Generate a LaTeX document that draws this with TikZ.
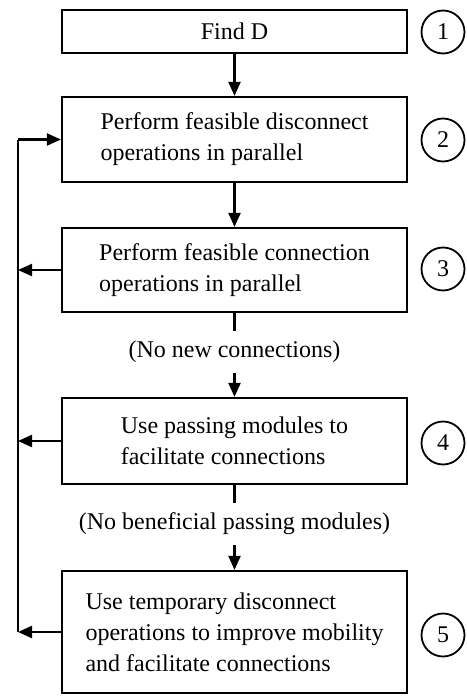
\documentclass[tikz,border=0pt]{standalone}
\usepackage{fontspec}
\setmainfont{Liberation Serif}
\usetikzlibrary{arrows.meta,calc}
\begin{document}
\begin{tikzpicture}[x=1pt,y=-1pt,
  font=\fontsize{24}{31}\selectfont,
  line width=2.2pt,
  boxstyle/.style={draw,rectangle,minimum width=345pt,inner sep=0pt,align=left},
  numstyle/.style={draw,circle,minimum size=43pt,inner sep=0pt,line width=1.8pt},
  lblstyle/.style={inner xsep=0pt,inner ysep=9pt},
  arr/.style={-{Triangle[length=14pt,width=12pt]}}]
\useasboundingbox (0,0) rectangle (466,698);
\node[boxstyle,minimum height=43pt] (b1) at (234.5,31.5) {Find D};
\node[boxstyle,minimum height=85pt] (b2) at (234.5,139.5) {Perform feasible disconnect\\operations in parallel};
\node[boxstyle,minimum height=84pt] (b3) at (234.5,270) {Perform feasible connection\\operations in parallel};
\node[boxstyle,minimum height=86pt] (b4) at (234.5,441) {Use passing modules to\\facilitate connections};
\node[boxstyle,minimum height=122pt] (b5) at (234.5,632) {Use temporary disconnect\\operations to improve mobility\\and facilitate connections};
\node[lblstyle] (l1) at (234.5,352) {(No new connections)};
\node[lblstyle] (l2) at (234.5,524) {(No beneficial passing modules)};
\node[numstyle] (n1) at (443,32) {1};
\node[numstyle] (n2) at (443,140) {2};
\node[numstyle] (n3) at (443,269) {3};
\node[numstyle] (n4) at (443,443) {4};
\node[numstyle] (n5) at (443,635) {5};
\coordinate (top) at (18,139.5);
\coordinate (bot) at (18,632);
\draw[arr] (b1) -- (b2);
\draw[arr] (b2) -- (b3);
\draw (b3) -- (l1);
\draw[arr] (l1) -- (b4);
\draw (b4) -- (l2);
\draw[arr] (l2) -- (b5);
\draw (bot) -- (top);
\draw[arr] (top) -- (b2.west);
\draw[arr] (b3.west) -- (b3.west -| top);
\draw[arr] (b4.west) -- (b4.west -| top);
\draw[arr] (b5.west) -- (bot);
\end{tikzpicture}
\end{document}
